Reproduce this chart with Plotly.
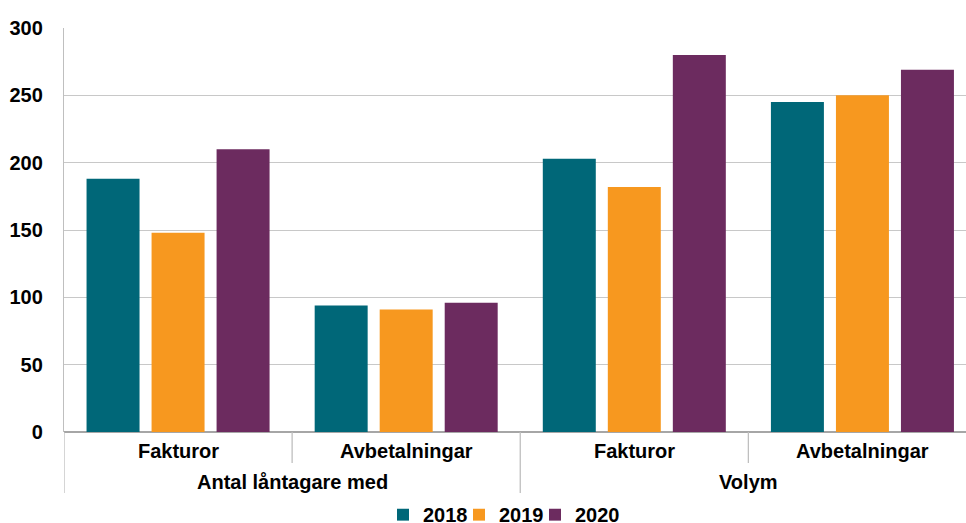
import plotly.graph_objects as go

groups = ["Antal låntagare med", "Antal låntagare med", "Volym", "Volym"]
subcats = ["Fakturor", "Avbetalningar", "Fakturor", "Avbetalningar"]
years = ["2018", "2019", "2020"]
values = {
    "2018": [188, 94, 203, 245],
    "2019": [148, 91, 182, 250],
    "2020": [210, 96, 280, 269],
}
colors = {"2018": "#006778", "2019": "#F7981F", "2020": "#6C2B5F"}
y_ticks = [0, 50, 100, 150, 200, 250, 300]

FONT = "Liberation Sans, Arial, sans-serif"
FS = 20
keys = [f"{g}|{s}|{i}" for i, (g, s) in enumerate(zip(groups, subcats))]

top_px, bot_px = 28, 432
def py(px):
    return (bot_px - px) / (bot_px - top_px)

fig = go.Figure()
for yr in years:
    fig.add_trace(go.Bar(
        x=keys, y=values[yr], name=yr,
        marker=dict(color=colors[yr], line=dict(width=0)),
    ))
# invisible spacer entry so the last legend label is not clipped
fig.add_trace(go.Bar(x=[keys[0]], y=[None], name=" ", visible="legendonly",
                     marker=dict(color="rgba(0,0,0,0)", line=dict(width=0)),
                     hoverinfo="skip", showlegend=True))

for i, s in enumerate(subcats):
    fig.add_annotation(x=keys[i], xref="x", y=py(451), yref="paper", yanchor="middle",
                       xanchor="center", text=s, showarrow=False,
                       font=dict(family=FONT, size=FS, color="#000", weight="bold"))

unique_groups = []
for g in groups:
    if g not in unique_groups:
        unique_groups.append(g)
for g in unique_groups:
    idx = [i for i, gg in enumerate(groups) if gg == g]
    center = (idx[0] + idx[-1]) / 2
    fig.add_annotation(x=center, xref="x", y=py(482), yref="paper", yanchor="middle",
                       xanchor="center", text=g, showarrow=False,
                       font=dict(family=FONT, size=FS, color="#000", weight="bold"))

line_col = "#BFBFBF"
for i in range(len(subcats)):
    xpos = i - 0.5
    if i == 0 or groups[i - 1] != groups[i]:
        y1 = py(493)
    else:
        y1 = py(463)
    fig.add_shape(type="line", xref="x", yref="paper", x0=xpos, x1=xpos, y0=0, y1=y1,
                  line=dict(color=line_col, width=1.3))

fig.update_layout(
    width=966, height=523,
    margin=dict(l=64, r=0, t=28, b=91, autoexpand=False),
    paper_bgcolor="white", plot_bgcolor="white",
    barmode="group", bargap=0.145, bargroupgap=0.185,
    font=dict(family=FONT, color="#000"),
    showlegend=True,
    legend=dict(orientation="h", xref="container", yref="container", x=383 / 966, y=0.016,
                xanchor="left", yanchor="middle", bgcolor="rgba(0,0,0,0)",
                font=dict(family=FONT, size=FS, color="#000", weight="bold"),
                entrywidth=31, entrywidthmode="pixels",
                itemwidth=30, tracegroupgap=0),
    xaxis=dict(range=[-0.5, 3.454], showticklabels=False, showgrid=False, zeroline=False,
               showline=False, ticks=""),
    yaxis=dict(range=[0, 300], tickvals=y_ticks, showgrid=True, gridcolor="#C8C8C8", gridwidth=1,
               zeroline=True, zerolinecolor="#A6A6A6", zerolinewidth=2,
               showline=True, linecolor="#BFBFBF", linewidth=1.3, ticks="",
               ticklabelstandoff=16,
               tickfont=dict(family=FONT, size=FS, color="#000", weight="bold")),
)

fig.write_html("out.html", config={"displayModeBar": False},
               post_script="document.body.style.margin='0';document.body.style.overflow='hidden';")
